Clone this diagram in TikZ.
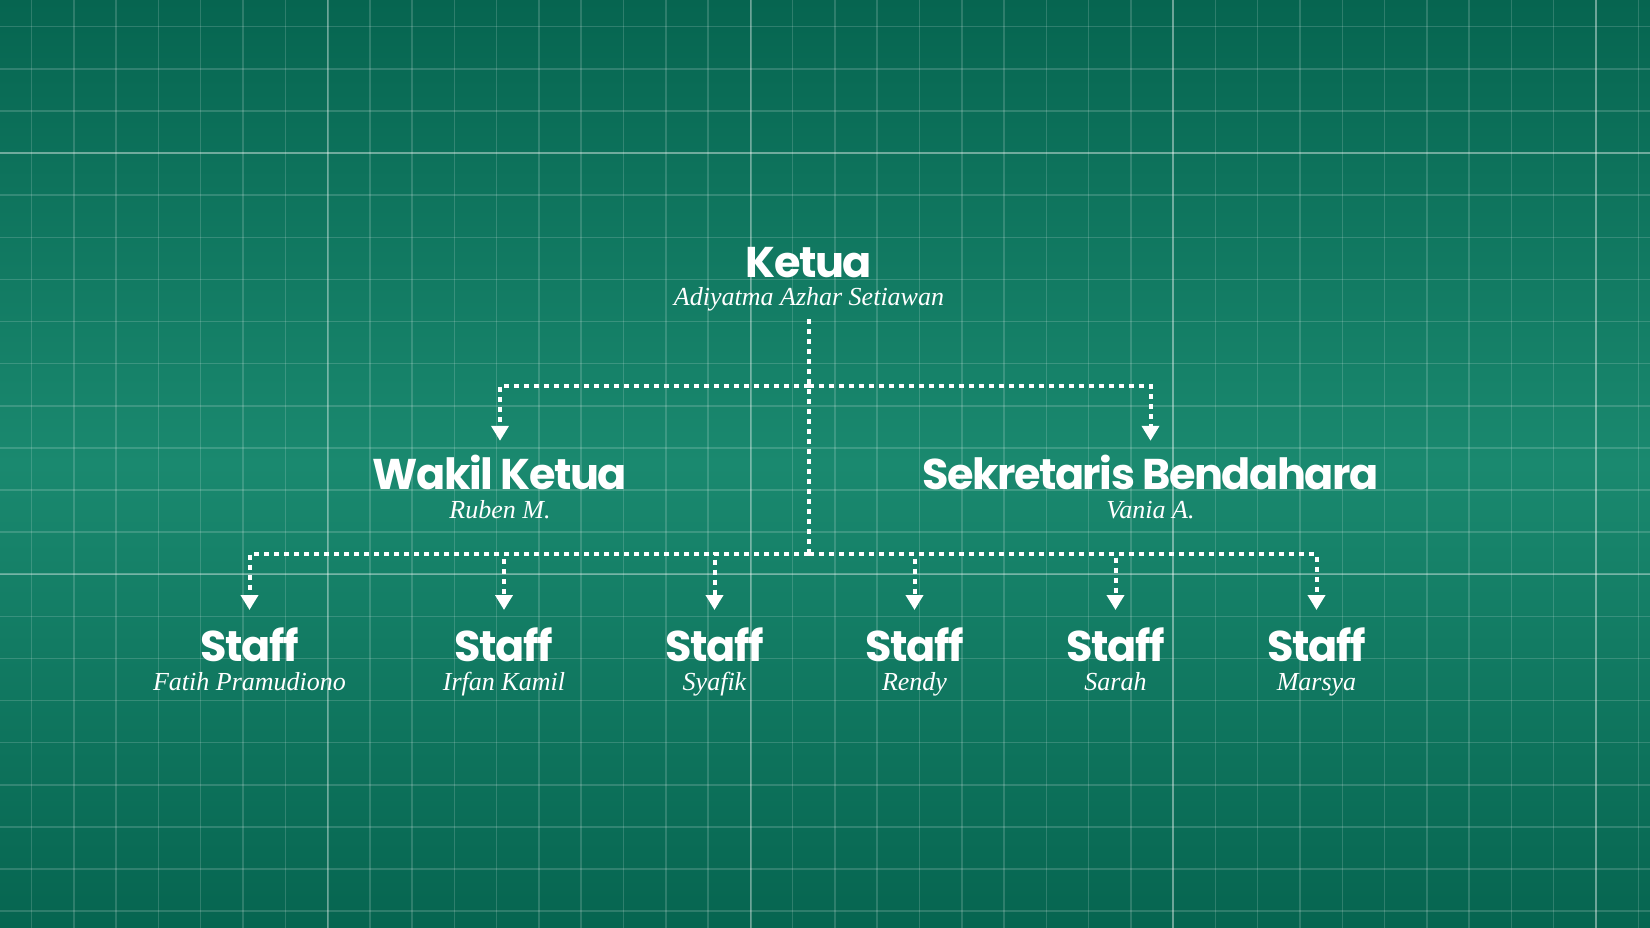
\documentclass[tikz,border=0pt]{standalone}
\usepackage{fontspec}
\newfontfamily\titlefont{Poppins}[LetterSpace=-3.5]
\newfontfamily\namefont{Liberation Serif}
\usetikzlibrary{arrows.meta}
\definecolor{bgdark}{RGB}{6,101,80}
\definecolor{bgmid}{RGB}{26,137,111}
\newcommand\ptfont{\titlefont\bfseries\fontsize{43}{43}\selectfont}
\newcommand\pnfont{\namefont\itshape\fontsize{26}{26}\selectfont}
\newcommand\person[2]{\vbox{\offinterlineskip\halign{\hfil##\hfil\cr
  \vrule height 32pt depth 0pt width 0pt{\ptfont #1}\cr
  \vrule height 28pt depth 8pt width 0pt{\pnfont #2}\cr}}}
\tikzset{
  gridminor/.style={draw=white, draw opacity=0.16, line width=1.5pt},
  gridmajor/.style={draw=white, draw opacity=0.30, line width=2pt},
  conn/.style={draw=white, line width=4pt, dash pattern=on 5pt off 5pt},
  tip/.style={-{Triangle[width=17pt,length=15pt]}},
  person/.style={inner sep=0pt, anchor=north, text=white},
  lvlone/.style={person, outer ysep=6pt},
  lvltwo/.style={person, outer ysep=14.5pt},
  lvlthree/.style={person, outer ysep=18pt}
}
\begin{document}
\begin{tikzpicture}[x=1pt,y=-1pt]
\useasboundingbox (0,0) rectangle (1650,928);
\shade[top color=bgdark, bottom color=bgdark, middle color=bgmid] (0,0) rectangle (1650,928);
% grid
\foreach \i in {0,...,38} \draw[gridminor] ({31.6+\i*42.28},0) -- ++(0,928);
\foreach \j in {0,...,21} \draw[gridminor] (0,{26.7+\j*42.12}) -- ++(1650,0);
\foreach \x in {327.7,750.5,1173.3,1596.1} \draw[gridmajor] (\x,0) -- ++(0,928);
\foreach \y in {152.7,574.3} \draw[gridmajor] (0,\y) -- ++(1650,0);

% people (point given = outer north anchor)
\node[lvlone] (k) at (809,239) {\person{Ketua}{Adiyatma Azhar Setiawan}};

\node[lvltwo] (w) at (500,440.8) {\person{Wakil Ketua}{Ruben M.}};
\node[lvltwo] (sb) at (1150.5,440.8) {\person{Sekretaris Bendahara}{Vania A.}};

\node[lvlthree] (s1) at (249.5,610) {\person{Staff}{Fatih Pramudiono}};
\node[lvlthree] (s2) at (504,610) {\person{Staff}{Irfan Kamil}};
\node[lvlthree] (s3) at (714.5,610) {\person{Staff}{Syafik}};
\node[lvlthree] (s4) at (914.5,610) {\person{Staff}{Rendy}};
\node[lvlthree] (s5) at (1115.5,610) {\person{Staff}{Sarah}};
\node[lvlthree] (s6) at (1316.5,610) {\person{Staff}{Marsya}};

% junctions
\coordinate (j1) at (809,385.7);
\coordinate (j2) at (809,554);

% connectors
\draw[conn] (k.south) -- (j2);
\draw[conn,tip] (j1) -| (w.north);
\draw[conn,tip] (j1) -| (sb.north);
\foreach \i in {1,...,6} \draw[conn,tip] (j2) -| (s\i.north);
\end{tikzpicture}
\end{document}
